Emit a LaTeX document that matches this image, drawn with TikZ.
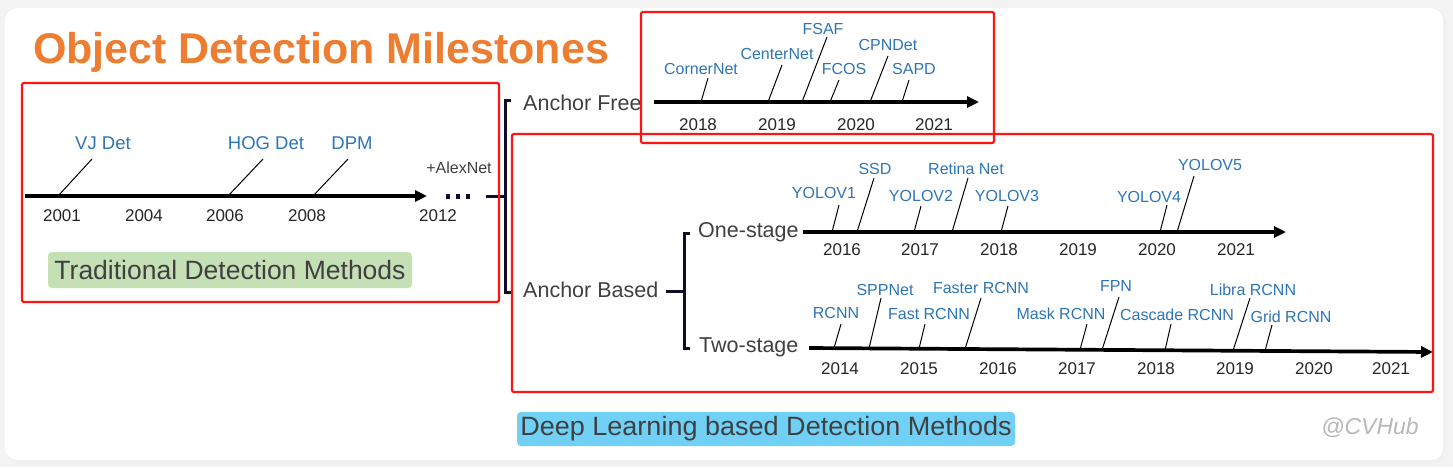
\documentclass[tikz,border=0pt]{standalone}
\usepackage{fontspec}
\setmainfont{Liberation Sans}
\usetikzlibrary{arrows.meta}
\definecolor{mblue}{RGB}{46,117,182}
\definecolor{orng}{RGB}{237,125,49}
\definecolor{navy}{RGB}{14,14,44}
\definecolor{dgray}{RGB}{64,64,64}
\definecolor{lgreen}{RGB}{197,224,180}
\definecolor{lblue}{RGB}{112,208,246}
\definecolor{bggray}{RGB}{243,243,243}
\definecolor{rbred}{RGB}{255,20,20}
\tikzset{
  meth/.style={text=mblue,font=\fontsize{16}{18}\selectfont,inner sep=0pt},
  tmeth/.style={text=mblue,font=\fontsize{18.5}{20}\selectfont,inner sep=0pt},
  yr/.style={text=black!85,font=\fontsize{17}{19}\selectfont,inner sep=0pt},
  tlaxis/.style={line width=3.7pt,-{Triangle[length=12pt,width=11pt]}},
  lead/.style={line width=1pt},
  brk/.style={draw=navy,line width=3pt},
  rbox/.style={draw=rbred,line width=2.2pt,rounded corners=2pt},
  catlbl/.style={text=dgray,font=\fontsize{21.5}{24}\selectfont,inner sep=0pt,anchor=west},
  bigbox/.style={text=dgray,font=\fontsize{26.5}{28}\selectfont,inner sep=0pt}
}
\begin{document}
\begin{tikzpicture}[x=1pt,y=-1pt]
\useasboundingbox (0,0) rectangle (1453,467);
\fill[bggray] (0,0) rectangle (1453,467);
\fill[black!6,rounded corners=12pt] (6,10) rectangle (1446,463);
\fill[white,rounded corners=12pt] (5,8) rectangle (1443,460);

% title
\node[anchor=base west,inner sep=0pt,text=orng,font=\fontsize{43}{46}\selectfont\bfseries] (title) at (33,63) {Object Detection Milestones};

% ---------- traditional ----------
\coordinate (ta) at (25,196);
\coordinate (tb) at (427,196);
\draw[tlaxis] (ta) -- (tb);
\node[yr] (y2001) at (62,216) {2001};
\node[yr] (y2004) at (144,216) {2004};
\node[yr] (y2006) at (225,216) {2006};
\node[yr] (y2008) at (307,216) {2008};
\node[yr] (y2012) at (438,216) {2012};
\node[tmeth] (vj) at (103,143) {VJ Det};
\node[tmeth] (hog) at (266,143) {HOG Det};
\node[tmeth] (dpm) at (352,143) {DPM};
\coordinate (vja) at (58,196); \coordinate (vjb) at (92,159);
\coordinate (hoga) at (228,196); \coordinate (hogb) at (263,159);
\coordinate (dpma) at (313,196); \coordinate (dpmb) at (348,159);
\draw[lead] (vja) -- (vjb);
\draw[lead] (hoga) -- (hogb);
\draw[lead] (dpma) -- (dpmb);
\node[inner sep=0pt,text=dgray,font=\fontsize{16}{18}\selectfont] (alex) at (459,168) {+AlexNet};
\foreach \i/\x in {1/448,2/458,3/468}{\fill[navy] (\x-2.1,194.4) rectangle (\x+2.1,198.6);}
\coordinate (da) at (486,196);
\coordinate (db) at (505,196);
\draw[brk] (da) -- (db);
\draw[brk] (511,100) -- (505,100) -- (505,292) -- (511,292);

\node[rectangle,fill=lgreen,rounded corners=4pt,minimum width=364pt,minimum height=36pt,inner sep=0pt] (tradbox) at (230,270) {};
\node[bigbox] (tradtxt) at (tradbox.center) {Traditional Detection Methods};

% ---------- categories ----------
\node[catlbl] (af) at (523,103) {Anchor Free};
\node[catlbl] (ab) at (523,290) {Anchor Based};
\coordinate (abr) at (666,291);
\coordinate (abj) at (684,291);
\draw[brk] (abr) -- (abj);
\draw[brk] (690,233) -- (684,233) -- (684,348) -- (690,348);
\node[catlbl] (one) at (698,232) {One-stage};
\node[catlbl] (two) at (699,347) {Two-stage};

% ---------- anchor free timeline ----------
\coordinate (fa) at (654,102);
\coordinate (fb) at (979,102);
\draw[tlaxis] (fa) -- (fb);
\foreach \n/\x in {2018/698,2019/777,2020/856,2021/934}{\node[yr] (f\n) at (\x,125) {\n};}
\node[meth] (corner) at (701,69) {CornerNet};
\node[meth] (center) at (777,54) {CenterNet};
\node[meth] (fsaf) at (823,29) {FSAF};
\node[meth] (fcos) at (844,69) {FCOS};
\node[meth] (cpn) at (888,45) {CPNDet};
\node[meth] (sapd) at (914,69) {SAPD};
\foreach \nm/\xa/\xb/\yb in {corner/701/708/78,center/768/782/65,fsaf/802/827/37,fcos/830/839/80,cpn/870/888/56,sapd/902/909/80}{
  \coordinate (\nm a) at (\xa,102); \coordinate (\nm b) at (\xb,\yb);
  \draw[lead] (\nm a) -- (\nm b);}

% ---------- one-stage timeline ----------
\coordinate (oa) at (803,232);
\coordinate (ob) at (1286,232);
\draw[tlaxis] (oa) -- (ob);
\foreach \n/\x in {2016/842,2017/920,2018/999,2019/1078,2020/1157,2021/1236}{\node[yr] (o\n) at (\x,250) {\n};}
\node[meth] (yv1) at (824,193) {YOLOV1};
\node[meth] (ssd) at (875,169) {SSD};
\node[meth] (yv2) at (921,196) {YOLOV2};
\node[meth] (ret) at (966,169) {Retina Net};
\node[meth] (yv3) at (1007,196) {YOLOV3};
\node[meth] (yv4) at (1149,197) {YOLOV4};
\node[meth] (yv5) at (1210,165) {YOLOV5};
\foreach \nm/\xa/\xb/\yb in {yv1/832/839/205,ssd/857/874/178,yv2/914/921/206,ret/952/968/178,yv3/1001/1008/206,yv4/1160/1167/205,yv5/1177/1194/176}{
  \coordinate (\nm a) at (\xa,232); \coordinate (\nm b) at (\xb,\yb);
  \draw[lead] (\nm a) -- (\nm b);}

% ---------- two-stage timeline ----------
\coordinate (sa) at (809,348);
\coordinate (sb) at (1433,352);
\draw[tlaxis] (sa) -- (sb);
\foreach \n/\x in {2014/840,2015/919,2016/998,2017/1077,2018/1156,2019/1235,2020/1314,2021/1391}{\node[yr] (s\n) at (\x,369) {\n};}
\node[meth] (rcnn) at (836,313) {RCNN};
\node[meth] (spp) at (885,290) {SPPNet};
\node[meth] (fast) at (929,314) {Fast RCNN};
\node[meth] (faster) at (981,288) {Faster RCNN};
\node[meth] (mask) at (1061,314) {Mask RCNN};
\node[meth] (fpn) at (1116,286) {FPN};
\node[meth] (casc) at (1177,315) {Cascade RCNN};
\node[meth] (libra) at (1253,290) {Libra RCNN};
\node[meth] (grid) at (1291,317) {Grid RCNN};
\foreach \nm/\xa/\ya/\xb/\yb in {rcnn/834/348.2/841/324,spp/869/348.4/881/298,fast/919/348.7/925/324,faster/965/349/981/298,mask/1080/349.7/1087/324,fpn/1102/349.9/1119/297,casc/1165/350.3/1171/324,libra/1233/350.7/1250/298,grid/1265/350.9/1272/325}{
  \coordinate (\nm a) at (\xa,\ya); \coordinate (\nm b) at (\xb,\yb);
  \draw[lead] (\nm a) -- (\nm b);}

% ---------- bottom labels ----------
\node[rectangle,fill=lblue,rounded corners=4pt,minimum width=498pt,minimum height=34pt,inner sep=0pt] (dlbox) at (766,429) {};
\node[bigbox,xscale=1.02] (dltxt) at (dlbox.center) {Deep Learning based Detection Methods};
\node[inner sep=0pt,text=black!28,font=\fontsize{23}{25}\selectfont\itshape] (cvhub) at (1370,428) {@CVHub};

% ---------- red boxes ----------
\draw[rbox] (22,83) rectangle (499,302);
\draw[rbox] (641,12) rectangle (994,143);
\draw[rbox] (512,134) rectangle (1433,392);
\end{tikzpicture}
\end{document}
